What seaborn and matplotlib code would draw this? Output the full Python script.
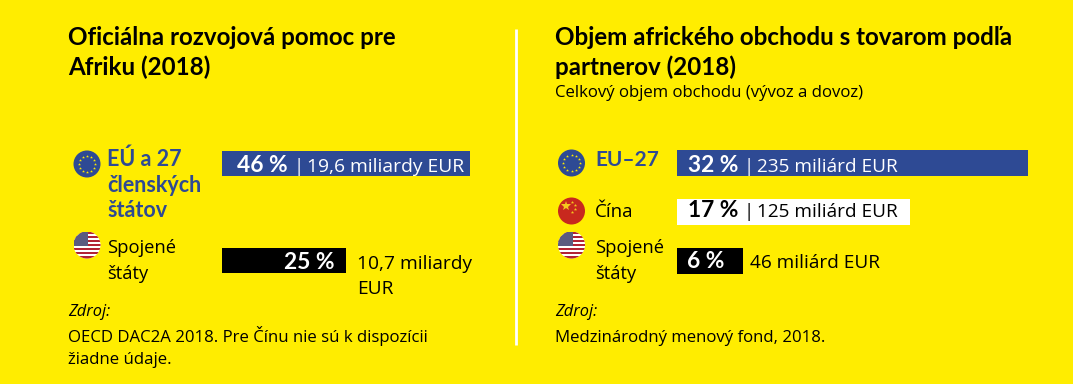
import numpy as np
import matplotlib
matplotlib.use("Agg")
import matplotlib.pyplot as plt
from matplotlib.patches import Circle, Rectangle
import seaborn as sns

# colours
yellow = "#FFED00"
blue = "#2E4A94"
black = "#000000"
white = "#FFFFFF"

# left panel
left_title = ["Oficiálna rozvojová pomoc pre", "Afriku (2018)"]
left_partners = ["EÚ a 27 členských štátov", "Spojené štáty"]
left_shares = ["46 %", "25 %"]
left_amounts = ["19,6 miliardy EUR", "10,7 miliardy"]
# bar lengths as drawn in the picture (not proportional to the shares)
left_lengths = [46, 23]

# right panel
right_title = ["Objem afrického obchodu s tovarom podľa", "partnerov (2018)"]
right_subtitle = "Celkový objem obchodu (vývoz a dovoz)"
right_partners = ["EU–27", "Čína", "Spojené štáty"]
right_shares = ["32 %", "17 %", "6 %"]
right_amounts = ["235 miliárd EUR", "125 miliárd EUR", "46 miliárd EUR"]
right_lengths = [32, 21.2, 6]

W, H = 1073, 384
FONT = "Open Sans"
BOLD = "Lato"

sns.set_theme(style="white")
plt.rcParams["font.family"] = [FONT, "DejaVu Sans"]

fig = plt.figure(figsize=(W / 100, H / 100), dpi=100, facecolor=yellow)


def bar_axes(x0, x1, y0, y1):
    ax = fig.add_axes([x0 / W, 1 - y1 / H, (x1 - x0) / W, (y1 - y0) / H])
    ax.set_facecolor("none")
    ax.axis("off")
    return ax


# left bars, axes spans one category step above/below the two rows
ax1 = bar_axes(222, 470, 115, 309)
sns.barplot(x=left_lengths, y=left_partners, hue=left_partners, palette=[blue, black],
            width=0.26, saturation=1, linewidth=0, legend=False, ax=ax1)
ax1.set_xlim(0, 46)
ax1.axis("off")

ax2 = bar_axes(677, 1028, 139, 285)
sns.barplot(x=right_lengths, y=right_partners, hue=right_partners, palette=[blue, white, black],
            width=0.53, saturation=1, linewidth=0, legend=False, ax=ax2)
ax2.set_xlim(0, 32)
ax2.axis("off")

# overlay in pixel coordinates for text, flags and the divider
ov = fig.add_axes([0, 0, 1, 1], zorder=5)
ov.set_xlim(0, W)
ov.set_ylim(H, 0)
ov.axis("off")

ov.plot([516, 516], [29, 345], color=white, lw=2, solid_capstyle="butt")


def txt(x, y, s, size=13, weight="normal", color=black, style="normal", ha="left"):
    family = [BOLD, "DejaVu Sans"] if weight == "bold" else [FONT, "DejaVu Sans"]
    return ov.text(x, y, s, fontsize=size, fontweight=weight, color=color, family=family,
                   fontstyle=style, ha=ha, va="baseline")


def eu_flag(cx, cy, r=13.5):
    ov.add_patch(Circle((cx, cy), r, color=blue, lw=0))
    for a in np.arange(12) * np.pi / 6:
        ov.plot(cx + 0.62 * r * np.cos(a), cy + 0.62 * r * np.sin(a), marker="*",
                ms=2.2, color=yellow, mew=0)


def china_flag(cx, cy, r=13.5):
    ov.add_patch(Circle((cx, cy), r, color="#C8281E", lw=0))
    ov.plot(cx - 6, cy - 5, marker="*", ms=7, color="#F5C81E", mew=0)
    for dx, dy in [(0, -9), (3, -6), (3, -2), (0, 1)]:
        ov.plot(cx + dx, cy + dy, marker="*", ms=2.5, color="#F5C81E", mew=0)


def us_flag(cx, cy, r=13.5):
    clip = Circle((cx, cy), r, transform=ov.transData)
    ov.add_patch(Rectangle((cx - r, cy - r), 2 * r, 2 * r, color=white, lw=0, clip_path=clip))
    step = 2 * r / 13
    for i in range(0, 13, 2):
        ov.add_patch(Rectangle((cx - r, cy - r + i * step), 2 * r, step, color="#B22234",
                               lw=0, clip_path=clip))
    ov.add_patch(Rectangle((cx - r, cy - r), 1.1 * r, 7 * step, color="#5A5A80", lw=0, clip_path=clip))


# titles
for i, line in enumerate(left_title):
    txt(68, 45 + i * 30, line, size=17.4, weight="bold")
for i, line in enumerate(right_title):
    txt(555, 45 + i * 30, line, size=17.4, weight="bold")
txt(555, 97, right_subtitle, size=12.1)

# left rows
eu_flag(87, 164)
for y, line in zip([166, 192, 217], ["EÚ a 27", "členských", "štátov"]):
    txt(107, y, line, size=15.5, weight="bold", color=blue)
us_flag(87, 245)
for y, line in zip([253, 279], ["Spojené", "štáty"]):
    txt(107, y, line, size=13.2)
txt(237, 172, left_shares[0], size=16.4, weight="bold", color=white)
txt(293, 172, "|", size=13.5, color=white)
txt(307, 172, left_amounts[0], size=13.85, color=white)
txt(334, 269, left_shares[1], size=16.4, weight="bold", color=white, ha="right")
txt(357, 269, left_amounts[1], size=13.8)
txt(357, 294, "EUR", size=13.8)

# right rows
eu_flag(571.5, 163)
txt(595, 166, right_partners[0], size=15, weight="bold", color=blue)
china_flag(571.5, 211)
txt(595, 217, right_partners[1], size=13.5)
us_flag(571.5, 245)
for y, line in zip([253, 279], ["Spojené", "štáty"]):
    txt(595, y, line, size=13.2)
txt(688, 172, right_shares[0], size=16.4, weight="bold", color=white)
txt(743, 172, "|", size=13.5, color=white)
txt(757, 172, right_amounts[0], size=13.7, color=white)
txt(688, 217, right_shares[1], size=16.4, weight="bold")
txt(743, 217, "|", size=13.5)
txt(757, 217, right_amounts[1], size=13.7)
txt(687, 268, right_shares[2], size=16.4, weight="bold", color=white)
txt(750, 268, right_amounts[2], size=13.7)

# sources
txt(68, 316, "Zdroj:", size=11.8, style="italic")
txt(68, 342, "OECD DAC2A 2018. Pre Čínu nie sú k dispozícii", size=12.05)
txt(68, 364, "žiadne údaje.", size=12.05)
txt(555, 316, "Zdroj:", size=11.8, style="italic")
txt(555, 342, "Medzinárodný menový fond, 2018.", size=12.05)

fig.savefig("out.png", dpi=100, facecolor=yellow)
